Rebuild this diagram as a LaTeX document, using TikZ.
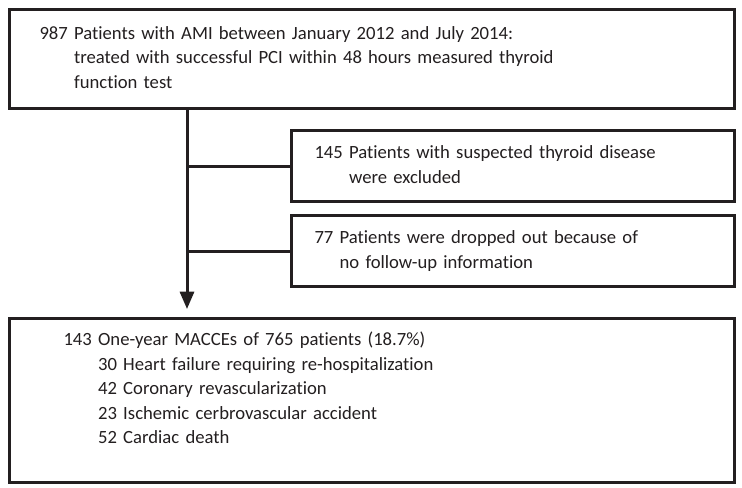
\documentclass[tikz,border=0pt]{standalone}
\usepackage{fontspec}
\setmainfont{Carlito}[Ligatures={NoCommon}]
\usetikzlibrary{arrows.meta,positioning}
\definecolor{ink}{HTML}{231F20}

\begin{document}
\begin{tikzpicture}[x=0.75pt,y=-0.75pt,
  box/.style={draw=ink,line width=2.25pt,anchor=north west,align=left,text=ink,
    font=\fontsize{14}{18.4}\selectfont,inner ysep=0pt},
  flow/.style={draw=ink,line width=2.25pt},
  flowarr/.style={flow,-{Triangle[length=13pt,width=10.5pt]},shorten >=6pt}]
  \useasboundingbox (0,0) rectangle (742,487);
  \fill[white] (0,0) rectangle (742,487);

  % ---- cohort (top) ----
  \node[box,minimum height=74.25pt,text width=498.75pt,inner xsep=22.5pt] (cohort) at (8,8)
    {\begin{tabular}{@{}l@{ }l@{}}
      987 & Patients with AMI between January 2012 and July 2014:\\
          & treated with successful PCI within 48 hours measured thyroid\\
          & function test
    \end{tabular}};

  % ---- exclusions (right) ----
  \node[box,minimum height=53.25pt,text width=297.75pt,inner xsep=17.25pt] (excl) at (290,129)
    {\begin{tabular}{@{}l@{ }l@{}}
      145 & Patients with suspected thyroid disease\\
          & were excluded
    \end{tabular}};
  \node[box,minimum height=53.25pt,text width=297.75pt,inner xsep=17.25pt] (lost) at (290,214)
    {\begin{tabular}{@{}l@{ }l@{}}
      77 & Patients were dropped out because of\\
         & no follow-up information
    \end{tabular}};

  % ---- outcomes (bottom) ----
  \node[box,minimum height=123pt,text width=462.75pt,inner xsep=40.5pt] (mace) at (8,317)
    {\begin{tabular}{@{}l@{ }l@{}}
      143 & One-year MACCEs of 765 patients (18.7\%)\\
          & 30 Heart failure requiring re-hospitalization\\
          & 42 Coronary revascularization\\
          & 23 Ischemic cerbrovascular accident\\
          & 52 Cardiac death\\[15.75pt]
    \end{tabular}};

  % ---- connectors ----
  \path (cohort.south west) ++(179,0) coordinate (trunk);
  \draw[flowarr] (trunk) -- (trunk |- mace.north);
  \draw[flow] (trunk |- excl.west) -- (excl.west);
  \draw[flow] (trunk |- lost.west) -- (lost.west);
\end{tikzpicture}
\end{document}
